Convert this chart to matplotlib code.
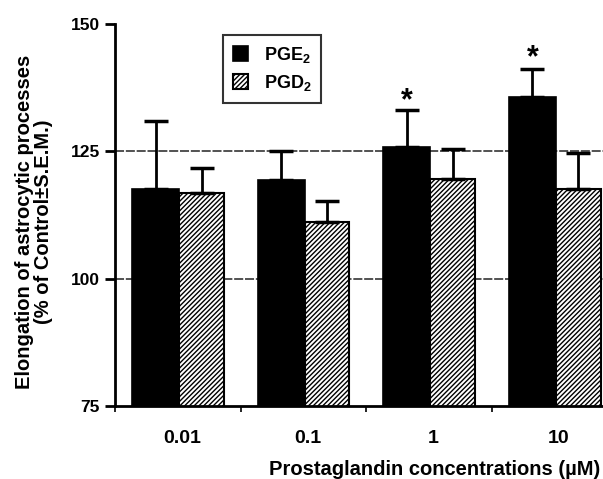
import numpy as np
import matplotlib
matplotlib.use("Agg")
import matplotlib.pyplot as plt

plt.rcParams['font.family'] = ['Liberation Sans', 'DejaVu Sans']
plt.rcParams['font.weight'] = 'bold'
plt.rcParams['mathtext.fontset'] = 'custom'
plt.rcParams['mathtext.rm'] = 'Liberation Sans:bold'
plt.rcParams['mathtext.bf'] = 'Liberation Sans:bold'
plt.rcParams['hatch.linewidth'] = 1.0

# data
concentrations = ['0.01', '0.1', '1', '10']
pge2_mean = [117.7, 119.4, 125.8, 135.6]
pge2_sem = [13.3, 5.6, 7.3, 5.6]
pgd2_mean = [116.9, 111.2, 119.5, 117.6]
pgd2_sem = [4.9, 4.0, 6.0, 7.0]
star_y = [None, None, 134.8, 143.3]

x = np.arange(len(concentrations))
w_e = 0.375
w_d = 0.355

fig = plt.figure(figsize=(6.03, 4.79), dpi=100)
ax = fig.add_axes([0.191, 0.152, 0.809, 0.798])

# grid lines at 100 and 125
for yv in [100, 125]:
    ax.axhline(yv, color='#444444', lw=1.3, ls=(0, (5, 1)), zorder=0)

ax.bar(x - w_e / 2 + 0.01, pge2_mean, width=w_e, color='black',
       edgecolor='black', lw=1.2, zorder=2, label='PGE$_2$')
ax.bar(x + w_d / 2 + 0.01, pgd2_mean, width=w_d, color='white', edgecolor='black',
       hatch='///////', lw=1.5, zorder=2, label='PGD$_2$')

ax.errorbar(x - w_e / 2 + 0.01, pge2_mean, yerr=[np.zeros(4), pge2_sem], fmt='none',
            ecolor='black', elinewidth=2, capsize=8.5, capthick=2.5, zorder=3)
ax.errorbar(x + w_d / 2 + 0.01, pgd2_mean, yerr=[np.zeros(4), pgd2_sem], fmt='none',
            ecolor='black', elinewidth=2, capsize=8.5, capthick=2.5, zorder=3)

for i, sy in enumerate(star_y):
    if sy is not None:
        ax.text(x[i] - w_e / 2 + 0.01, sy, '*', ha='center', va='center',
                fontsize=22, fontweight='bold')

ax.set_ylim(75, 150)
ax.set_xlim(-0.5, 3.384)
ax.set_yticks([75, 100, 125, 150])
ax.set_xticks(x + 0.03)
ax.set_xticklabels(concentrations)
ax.set_xticks(np.arange(-0.5, 3.5, 1.0), minor=True)
ax.tick_params(axis='x', which='major', length=0, pad=17, labelsize=14)
ax.tick_params(axis='x', which='minor', length=4, width=1.2, direction='out')
ax.tick_params(axis='y', length=7, width=2, labelsize=12.5, pad=4)

for s in ['top', 'right']:
    ax.spines[s].set_visible(False)
ax.spines['left'].set_linewidth(2)
ax.spines['bottom'].set_linewidth(2)

ax.set_ylabel('Elongation of astrocytic processes\n(% of Control\u00b1S.E.M.)',
              fontsize=14.5, fontweight='bold', linespacing=0.95)
ax.yaxis.set_label_coords(-0.128, 0.483)
ax.set_xlabel('Prostaglandin concentrations (\u00b5M)', fontsize=14.5,
              fontweight='bold')
ax.xaxis.set_label_coords(0.995, -0.14)
ax.xaxis.label.set_horizontalalignment('right')
ax.xaxis.label.set_verticalalignment('top')

leg = ax.legend(loc='upper left', bbox_to_anchor=(0.221, 0.971), fontsize=13,
                frameon=True, fancybox=False, edgecolor='black',
                handlelength=0.85, handleheight=0.9, handletextpad=0.85,
                borderpad=0.55, labelspacing=0.45, borderaxespad=0)
leg.get_frame().set_linewidth(1.5)

fig.savefig('out.png', dpi=100)
